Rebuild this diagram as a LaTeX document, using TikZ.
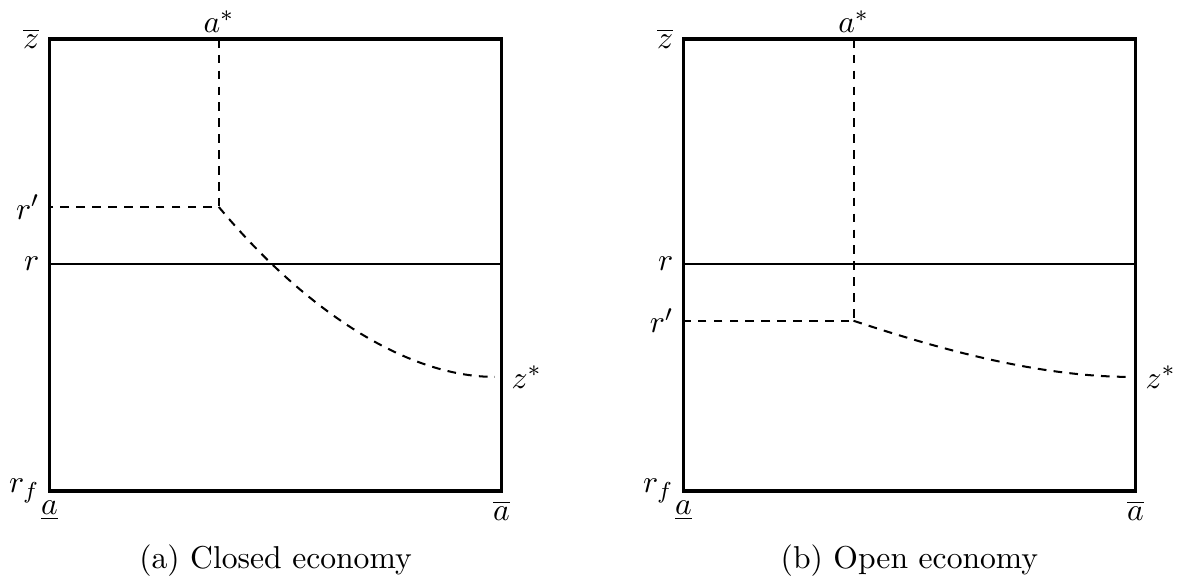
\documentclass[tikz,border=0pt]{standalone}
\begin{document}
\begin{tikzpicture}[every node/.style={font=\fontsize{10.95}{13.6}\selectfont},
                    box/.style={line width=1.2pt},
                    rline/.style={line width=0.7pt},
                    guide/.style={line width=0.7pt,dash pattern=on 3pt off 2.5pt}]
            \useasboundingbox (-0.602,-1.107) rectangle (13.755,5.973);
            % (a) closed economy
            \draw[box] (0,0) rectangle (5.5,5.5);
            \draw[rline] (0,2.76) -- (5.5,2.76);
            \draw[guide] (2.06,5.5) -- (2.06,3.455) -- (0,3.455);
            \draw[guide] (2.06,3.455) .. controls (3.06,2.255) and (4.3,1.387) .. (5.42,1.387);
            \node[left] (zbarA) at (0,5.5) {$\overline{z}$};
            \node[left] (rprimeA) at (0,3.455) {$r'$};
            \node[left] (rA) at (0,2.76) {$r$};
            \node[left] (rfA) at (0,0) {$r_f$};
            \node[below] (alowA) at (0,0) {$\underline{a}$};
            \node[below] (ahighA) at (5.5,0) {$\overline{a}$};
            \node[above,inner sep=2pt] (astarA) at (2.06,5.5) {$a^*$};
            \node[right] (zstarA) at (5.5,1.387) {$z^*$};
            \node (capA) at (2.75,-0.85) {(a) Closed economy};
            % (b) open economy
            \begin{scope}[xshift=7.713cm]
            \draw[box] (0,0) rectangle (5.5,5.5);
            \draw[rline] (0,2.76) -- (5.5,2.76);
            \draw[guide] (2.07,5.5) -- (2.07,2.07) -- (0,2.07);
            \draw[guide] (2.07,2.07) .. controls (3.07,1.74) and (4.3,1.387) .. (5.45,1.387);
            \node[left] (zbarB) at (0,5.5) {$\overline{z}$};
            \node[left] (rB) at (0,2.76) {$r$};
            \node[left] (rprimeB) at (0,2.07) {$r'$};
            \node[left] (rfB) at (0,0) {$r_f$};
            \node[below] (alowB) at (0,0) {$\underline{a}$};
            \node[below] (ahighB) at (5.5,0) {$\overline{a}$};
            \node[above,inner sep=2pt] (astarB) at (2.07,5.5) {$a^*$};
            \node[right] (zstarB) at (5.5,1.387) {$z^*$};
            \node (capB) at (2.75,-0.85) {(b) Open economy};
            \end{scope}
        \end{tikzpicture}
\end{document}
